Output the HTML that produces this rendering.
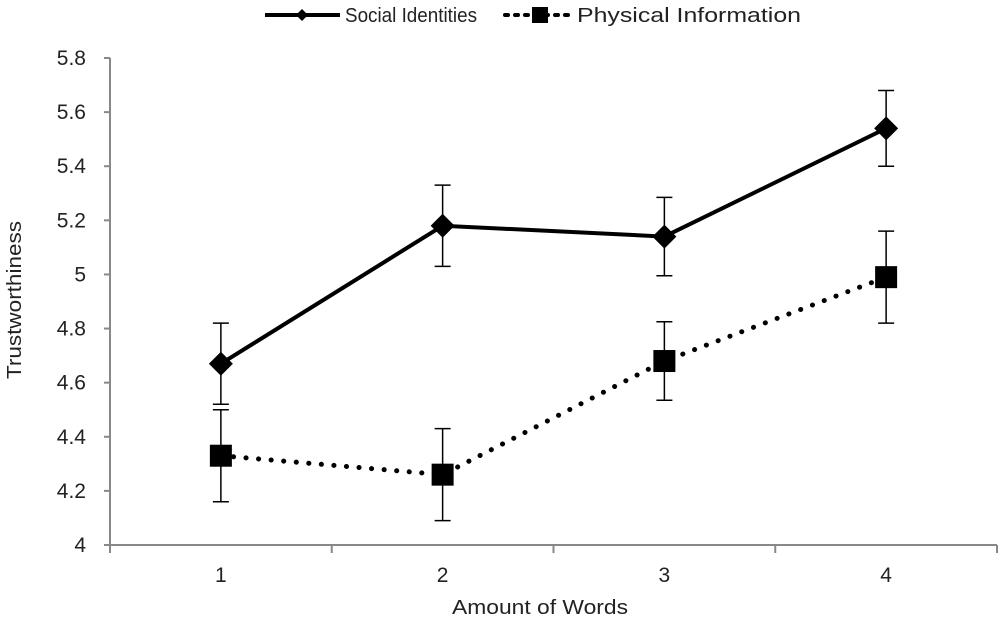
<!DOCTYPE html>
<html><head><meta charset="utf-8"><style>
body{margin:0;background:#fff;}
svg text{font-family:"Liberation Sans",Arial,sans-serif;fill:#222;}
</style></head><body>
<svg id="chart" width="1000" height="622" xmlns="http://www.w3.org/2000/svg">
<g id="legend">
  <g>
    <line x1="265" y1="15" x2="340" y2="15" stroke="#000" stroke-width="4"/>
    <polygon points="302,9 308,15 302,21 296,15" fill="#000"/>
    <text x="345" y="22" font-size="20" textLength="132" lengthAdjust="spacingAndGlyphs">Social Identities</text>
  </g>
  <g>
    <line x1="505" y1="15" x2="572" y2="15" stroke="#000" stroke-width="4" stroke-dasharray="3,7" stroke-linecap="round"/>
    <rect x="532" y="7" width="16" height="16" fill="#000"/>
    <text x="577" y="22" font-size="20" textLength="224" lengthAdjust="spacingAndGlyphs">Physical Information</text>
  </g>
</g>
<g id="axes"></g>
<g id="series"></g>
<text transform="translate(21,300) rotate(-90)" text-anchor="middle" font-size="20" textLength="158" lengthAdjust="spacingAndGlyphs">Trustworthiness</text>
<text x="540" y="614" text-anchor="middle" font-size="20" textLength="176" lengthAdjust="spacingAndGlyphs">Amount of Words</text>
</svg>
<script>
const categories = ["1","2","3","4"];
const yTicks = [4,4.2,4.4,4.6,4.8,5,5.2,5.4,5.6,5.8];
const yTickLabels = ["4","4.2","4.4","4.6","4.8","5","5.2","5.4","5.6","5.8"];
const socialValues = [4.67,5.18,5.14,5.54];
const socialErr = [0.15,0.15,0.145,0.14];
const physicalValues = [4.33,4.26,4.68,4.99];
const physicalErr = [0.17,0.17,0.145,0.17];

const NS="http://www.w3.org/2000/svg";
const x0=110,x1=997,yTop=58,yBot=545,yMin=4,yMax=5.8;
const band=(x1-x0)/categories.length;
function xs(i){return x0+band*(i+0.5);}
function ys(v){return yBot-(v-yMin)/(yMax-yMin)*(yBot-yTop);}
function mk(tag,attrs,parent){const e=document.createElementNS(NS,tag);for(const k in attrs)e.setAttribute(k,attrs[k]);parent.appendChild(e);return e;}
const axes=document.getElementById('axes');
const ya=mk('line',{x1:x0,y1:yTop,x2:x0,y2:yBot,stroke:'#888','stroke-width':2},axes);


const xa=mk('line',{x1:x0-5,y1:yBot,x2:x1,y2:yBot,stroke:'#888','stroke-width':2},axes);


yTicks.forEach((v,i)=>{
  mk('line',{x1:x0-6,y1:ys(v),x2:x0,y2:ys(v),stroke:'#888','stroke-width':2},axes);
  const t=mk('text',{x:x0-24,y:ys(v)+7,'text-anchor':'end','font-size':21},axes);
  t.textContent=yTickLabels[i];
  
  
});
for(let i=0;i<=categories.length;i++){
  mk('line',{x1:x0+band*i,y1:yBot,x2:x0+band*i,y2:yBot+8,stroke:'#888','stroke-width':2},axes);
}
categories.forEach((c,i)=>{
  const t=mk('text',{x:xs(i),y:yBot+37,'text-anchor':'middle','font-size':21},axes);
  t.textContent=c;
  
  
});
const ser=document.getElementById('series');
function drawSeries(vals,errs,name,dash,marker){
  const g=mk('g',{},ser);
  
  
  vals.forEach((v,i)=>{
    mk('line',{x1:xs(i),y1:ys(v-errs[i]),x2:xs(i),y2:ys(v+errs[i]),stroke:'#000','stroke-width':1.5},g);
    mk('line',{x1:xs(i)-8,y1:ys(v-errs[i]),x2:xs(i)+8,y2:ys(v-errs[i]),stroke:'#000','stroke-width':1.5},g);
    mk('line',{x1:xs(i)-8,y1:ys(v+errs[i]),x2:xs(i)+8,y2:ys(v+errs[i]),stroke:'#000','stroke-width':1.5},g);
  });
  const pts=vals.map((v,i)=>xs(i)+','+ys(v)).join(' ');
  const a={points:pts,fill:'none',stroke:'#000','stroke-width':4};
  if(dash){a['stroke-dasharray']='0.1,12.5';a['stroke-linecap']='round';a['stroke-width']=5;}
  const pl=mk('polyline',a,g);
  
  
  vals.forEach((v,i)=>{
    let m;
    if(marker==='diamond'){
      const x=xs(i),y=ys(v);
      m=mk('polygon',{points:`${x},${y-12} ${x+12},${y} ${x},${y+12} ${x-12},${y}`,fill:'#000'},g);
    }else{
      m=mk('rect',{x:xs(i)-11,y:ys(v)-11,width:22,height:22,fill:'#000'},g);
    }
    
    
  });
}
drawSeries(physicalValues,physicalErr,'physical-information',true,'square');
drawSeries(socialValues,socialErr,'social-identities',false,'diamond');
</script>
</body></html>
